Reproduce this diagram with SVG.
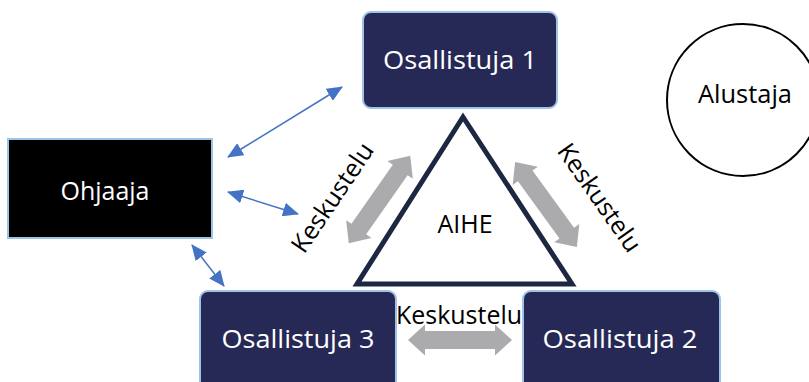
<svg xmlns="http://www.w3.org/2000/svg" width="809" height="382" viewBox="0 0 809 382">
  <style>
    .box { fill: #262855; stroke: #9dc3e6; stroke-width: 2; }
    .dark { fill: #000000; stroke: #9dc3e6; stroke-width: 2; }
    .lbl { font-family: "Open Sans", "Noto Sans", sans-serif; font-size: 25px; fill: #ffffff; text-anchor: middle; }
    .txt { font-family: "Open Sans", "Noto Sans", sans-serif; font-size: 25px; fill: #000000; text-anchor: middle; }
    .link { stroke: #4472c4; stroke-width: 1.5; fill: none; marker-start: url(#head); marker-end: url(#head); }
    .dbl { fill: #ababae; }
  </style>
  <defs>
    <marker id="head" viewBox="0 0 16 14" refX="15" refY="7" markerWidth="16" markerHeight="14" markerUnits="userSpaceOnUse" orient="auto-start-reverse">
      <path d="M0,0 L16,7 L0,14 Z" fill="#4472c4"/>
    </marker>
    <!-- wide grey two-way arrow, centred on the origin, pointing along x -->
    <path id="dblArrow" d="M-52,0 L-35,-15.5 L-35,-9 L35,-9 L35,-15.5 L52,0 L35,15.5 L35,9 L-35,9 L-35,15.5 Z"/>
  </defs>

  <g id="connectors">
    <line class="link" x1="228" y1="157" x2="342" y2="87"/>
    <line class="link" x1="228" y1="192" x2="298" y2="214"/>
    <line class="link" x1="192" y1="245" x2="224" y2="286"/>
    <use href="#dblArrow" class="dbl" transform="translate(379.5,199.5) rotate(-55) scale(1.03,1)"/>
    <use href="#dblArrow" class="dbl" transform="translate(546,204.5) rotate(54) scale(1.01,1)"/>
    <use href="#dblArrow" class="dbl" transform="translate(460,340)"/>
    <text class="txt" transform="translate(333,198) rotate(-56)" y="8">Keskustelu</text>
    <text class="txt" transform="translate(599,198) rotate(55)" y="8">Keskustelu</text>
    <text class="txt" x="459" y="324" textLength="126" lengthAdjust="spacingAndGlyphs">Keskustelu</text>
  </g>

  <g id="aihe">
    <polygon points="463,117 357,284 572,284" fill="#ffffff" stroke="#1c2742" stroke-width="5" stroke-linejoin="miter"/>
    <text class="txt" x="465" y="233">AIHE</text>
  </g>

  <g id="osallistuja1">
    <rect class="box" x="363" y="12" width="194" height="96" rx="8"/>
    <text class="lbl" x="460" y="69" textLength="154" lengthAdjust="spacingAndGlyphs">Osallistuja 1</text>
  </g>

  <g id="ohjaaja">
    <rect class="dark" x="8" y="139" width="204" height="99"/>
    <text class="lbl" x="105" y="200" textLength="89" lengthAdjust="spacingAndGlyphs">Ohjaaja</text>
  </g>

  <g id="osallistuja3">
    <rect class="box" x="200" y="291" width="196" height="100" rx="8"/>
    <text class="lbl" x="298" y="348" textLength="153" lengthAdjust="spacingAndGlyphs">Osallistuja 3</text>
  </g>

  <g id="osallistuja2">
    <rect class="box" x="523" y="291" width="197" height="100" rx="8"/>
    <text class="lbl" x="620" y="348" textLength="155" lengthAdjust="spacingAndGlyphs">Osallistuja 2</text>
  </g>

  <g id="alustaja">
    <circle cx="743" cy="100" r="76" fill="#ffffff" stroke="#000000" stroke-width="2"/>
    <text class="txt" x="745" y="103" textLength="94" lengthAdjust="spacingAndGlyphs">Alustaja</text>
  </g>
</svg>
